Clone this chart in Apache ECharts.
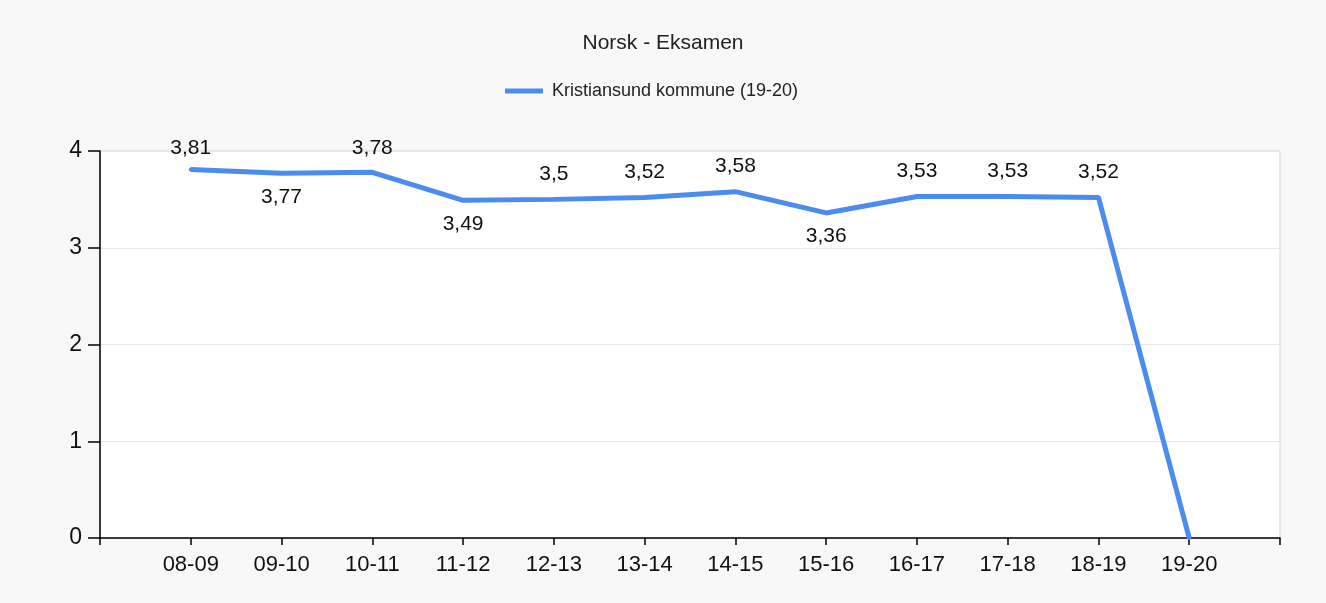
<!DOCTYPE html>
<html>
<head>
<meta charset="utf-8">
<script src="https://cdn.jsdelivr.net/npm/echarts@6/dist/echarts.min.js"></script>
<style>
  html, body { margin: 0; padding: 0; background: #f8f8f8; }
  #chart { width: 1326px; height: 603px; }
</style>
</head>
<body>
<div id="chart"></div>
<script>
const categories = ["08-09", "09-10", "10-11", "11-12", "12-13", "13-14", "14-15", "15-16", "16-17", "17-18", "18-19", "19-20"]
const values = [3.81, 3.77, 3.78, 3.49, 3.5, 3.52, 3.58, 3.36, 3.53, 3.53, 3.52, 0]
const labelsBelow = ["09-10", "11-12", "15-16"]
const seriesName = "Kristiansund kommune (19-20)"

const chart = echarts.init(document.getElementById("chart"))
const font = "'Liberation Sans', Arial, sans-serif"
const gridTop = 151

// tomme kategorier i begge ender, som i originalen
const axisData = [""].concat(categories, [""])

function buildData(pixelY) {
  return [null].concat(values.map((v, i) => {
    const below = labelsBelow.includes(categories[i])
    let dist = below ? 11 : 13
    // etiketter over punktet skyves ned så de ikke går for langt over plottet
    if (!below && pixelY) dist = Math.max(2, Math.min(dist, pixelY[i] - gridTop - 10))
    return {
      value: v,
      label: { show: v !== 0, position: below ? "bottom" : "top", distance: dist }
    }
  }), [null])
}

chart.setOption({
  backgroundColor: "#f8f8f8",
  animation: false,
  title: {
    text: "Norsk - Eksamen",
    left: "center",
    top: 28,
    textStyle: { fontFamily: font, fontSize: 21, fontWeight: "normal", color: "#222" }
  },
  legend: {
    top: 77,
    left: 500,
    itemWidth: 38,
    itemHeight: 5,
    icon: "rect",
    textStyle: { fontFamily: font, fontSize: 18, color: "#222", padding: [0, 0, 0, 4] },
    data: [seriesName]
  },
  grid: {
    left: 100,
    right: 46,
    top: gridTop,
    bottom: 65,
    show: true,
    backgroundColor: "#fff",
    borderColor: "#d4d4d4",
    borderWidth: 1
  },
  xAxis: {
    type: "category",
    data: axisData,
    boundaryGap: false,
    axisLine: { lineStyle: { color: "#000", width: 1.5 } },
    axisTick: { length: 7, lineStyle: { color: "#000", width: 1.5 } },
    axisLabel: { fontFamily: font, fontSize: 22, color: "#111", margin: 16, interval: 0 },
    splitLine: { show: false }
  },
  yAxis: {
    type: "value",
    min: 0,
    max: 4,
    interval: 1,
    axisLine: { show: true, lineStyle: { color: "#000", width: 1.5 } },
    axisTick: { show: true, length: 12, lineStyle: { color: "#000", width: 1.5 } },
    axisLabel: { fontFamily: font, fontSize: 23, color: "#111", margin: 18 },
    splitLine: { lineStyle: { color: "#e8e8e8" } }
  },
  series: [{
    name: seriesName,
    type: "line",
    data: buildData(null),
    showSymbol: true,
    symbol: "circle",
    symbolSize: 4,
    color: "#4a8cf0",
    itemStyle: { color: "#4a8cf0" },
    lineStyle: { width: 5, color: "#4a8cf0" },
    label: {
      show: true,
      fontFamily: font,
      fontSize: 21,
      color: "#111",
      formatter: p => String(p.value).replace(".", ",")
    }
  }]
})

const pixelY = values.map(v => chart.convertToPixel({ yAxisIndex: 0 }, v))
chart.setOption({ series: [{ data: buildData(pixelY) }] })
</script>
</body>
</html>
